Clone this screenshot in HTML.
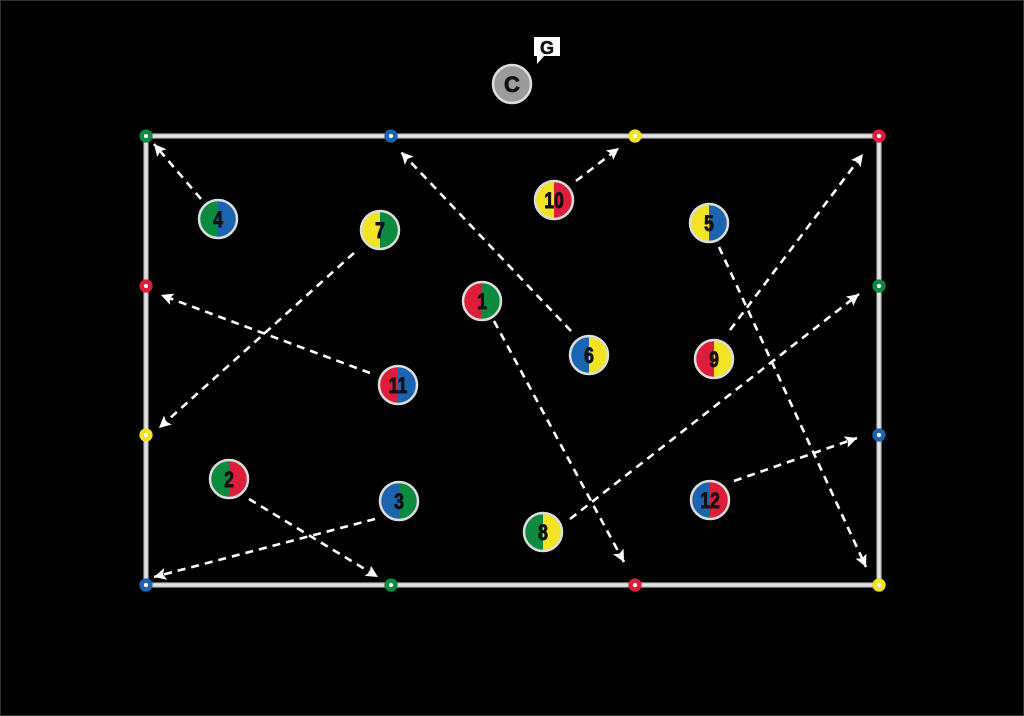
<!DOCTYPE html>
<html><head><meta charset="utf-8"><style>
html,body{margin:0;padding:0;background:#000;}
svg{display:block;}
text{font-family:"Liberation Sans",sans-serif;font-weight:bold;}
</style></head><body>
<svg width="1024" height="716" viewBox="0 0 1024 716" xmlns="http://www.w3.org/2000/svg">
<defs>
<marker id="ah" markerUnits="userSpaceOnUse" markerWidth="13" markerHeight="12" refX="12" refY="6" orient="auto">
<path d="M0,0 L12,6 L0,12 L2.5,6 z" fill="#fff"/>
</marker>
</defs>
<rect width="1024" height="716" fill="#000"/>
<rect x="0.5" y="0.5" width="1023" height="715" fill="none" stroke="#333" stroke-width="1"/>
<!-- field -->
<rect x="146" y="136" width="733" height="449" fill="none" stroke="#8a8a8a" stroke-width="5.5"/>
<rect x="146" y="136" width="733" height="449" fill="none" stroke="#e2e2e2" stroke-width="3.5"/>
<!-- arrows -->
<g stroke="#fff" stroke-width="2.6" stroke-dasharray="8 6" fill="none" marker-end="url(#ah)">
<line x1="201" y1="199" x2="154" y2="144"/>
<line x1="354" y1="253" x2="159" y2="428"/>
<line x1="370" y1="373" x2="161" y2="295"/>
<line x1="571" y1="331" x2="401" y2="152"/>
<line x1="576" y1="181" x2="619" y2="148"/>
<line x1="494" y1="321" x2="624" y2="562"/>
<line x1="719" y1="247" x2="866" y2="567"/>
<line x1="730" y1="330" x2="863" y2="154"/>
<line x1="570" y1="519" x2="859" y2="294"/>
<line x1="734" y1="481" x2="857" y2="438"/>
<line x1="249" y1="499" x2="378" y2="577"/>
<line x1="375" y1="519" x2="154" y2="577"/>
</g>
<!-- cones -->
<g fill="#fff" stroke-width="4.5">
<circle cx="146" cy="136" r="4.4" stroke="#0b8a40"/>
<circle cx="391" cy="136" r="4.4" stroke="#1c64b0"/>
<circle cx="635" cy="136" r="4.4" stroke="#f3e325"/>
<circle cx="879" cy="136" r="4.4" stroke="#dc1e3a"/>
<circle cx="146" cy="286" r="4.4" stroke="#dc1e3a"/>
<circle cx="146" cy="435" r="4.4" stroke="#f3e325"/>
<circle cx="146" cy="585" r="4.4" stroke="#1c64b0"/>
<circle cx="879" cy="286" r="4.4" stroke="#0b8a40"/>
<circle cx="879" cy="435" r="4.4" stroke="#1c64b0"/>
<circle cx="879" cy="585" r="4.4" stroke="#f3e325"/>
<circle cx="391" cy="585" r="4.4" stroke="#0b8a40"/>
<circle cx="635" cy="585" r="4.4" stroke="#dc1e3a"/>
</g>
<!-- coach -->
<circle cx="512" cy="84" r="19" fill="#9b9b9b" stroke="#dcdcdc" stroke-width="2.5"/>
<text x="512" y="92" font-size="22" text-anchor="middle" fill="#111" stroke="#111" stroke-width="0.8">C</text>
<rect x="534" y="37" width="26" height="19" fill="#fff"/>
<polygon points="537,55 545,55 537,64" fill="#fff"/>
<text x="547" y="54" font-size="18" text-anchor="middle" fill="#111" stroke="#111" stroke-width="0.6">G</text>
<!-- players -->
<g id="players" font-size="22">
<g transform="translate(482,301)"><path d="M0,-19 A19,19 0 0 0 0,19 z" fill="#dc1e3a"/><path d="M0,-19 A19,19 0 0 1 0,19 z" fill="#0b8a40"/><circle r="19" fill="none" stroke="#dcdcdc" stroke-width="2.5"/><text y="8" text-anchor="middle" fill="#111" stroke="#111" stroke-width="0.9" transform="scale(0.8,1)">1</text></g>
<g transform="translate(229,479)"><path d="M0,-19 A19,19 0 0 0 0,19 z" fill="#0b8a40"/><path d="M0,-19 A19,19 0 0 1 0,19 z" fill="#dc1e3a"/><circle r="19" fill="none" stroke="#dcdcdc" stroke-width="2.5"/><text y="8" text-anchor="middle" fill="#111" stroke="#111" stroke-width="0.9" transform="scale(0.8,1)">2</text></g>
<g transform="translate(399,501)"><path d="M0,-19 A19,19 0 0 0 0,19 z" fill="#1c64b0"/><path d="M0,-19 A19,19 0 0 1 0,19 z" fill="#0b8a40"/><circle r="19" fill="none" stroke="#dcdcdc" stroke-width="2.5"/><text y="8" text-anchor="middle" fill="#111" stroke="#111" stroke-width="0.9" transform="scale(0.8,1)">3</text></g>
<g transform="translate(218,219)"><path d="M0,-19 A19,19 0 0 0 0,19 z" fill="#0b8a40"/><path d="M0,-19 A19,19 0 0 1 0,19 z" fill="#1c64b0"/><circle r="19" fill="none" stroke="#dcdcdc" stroke-width="2.5"/><text y="8" text-anchor="middle" fill="#111" stroke="#111" stroke-width="0.9" transform="scale(0.8,1)">4</text></g>
<g transform="translate(709,223)"><path d="M0,-19 A19,19 0 0 0 0,19 z" fill="#f3e325"/><path d="M0,-19 A19,19 0 0 1 0,19 z" fill="#1c64b0"/><circle r="19" fill="none" stroke="#dcdcdc" stroke-width="2.5"/><text y="8" text-anchor="middle" fill="#111" stroke="#111" stroke-width="0.9" transform="scale(0.8,1)">5</text></g>
<g transform="translate(589,355)"><path d="M0,-19 A19,19 0 0 0 0,19 z" fill="#1c64b0"/><path d="M0,-19 A19,19 0 0 1 0,19 z" fill="#f3e325"/><circle r="19" fill="none" stroke="#dcdcdc" stroke-width="2.5"/><text y="8" text-anchor="middle" fill="#111" stroke="#111" stroke-width="0.9" transform="scale(0.8,1)">6</text></g>
<g transform="translate(380,230)"><path d="M0,-19 A19,19 0 0 0 0,19 z" fill="#f3e325"/><path d="M0,-19 A19,19 0 0 1 0,19 z" fill="#0b8a40"/><circle r="19" fill="none" stroke="#dcdcdc" stroke-width="2.5"/><text y="8" text-anchor="middle" fill="#111" stroke="#111" stroke-width="0.9" transform="scale(0.8,1)">7</text></g>
<g transform="translate(543,532)"><path d="M0,-19 A19,19 0 0 0 0,19 z" fill="#0b8a40"/><path d="M0,-19 A19,19 0 0 1 0,19 z" fill="#f3e325"/><circle r="19" fill="none" stroke="#dcdcdc" stroke-width="2.5"/><text y="8" text-anchor="middle" fill="#111" stroke="#111" stroke-width="0.9" transform="scale(0.8,1)">8</text></g>
<g transform="translate(714,359)"><path d="M0,-19 A19,19 0 0 0 0,19 z" fill="#dc1e3a"/><path d="M0,-19 A19,19 0 0 1 0,19 z" fill="#f3e325"/><circle r="19" fill="none" stroke="#dcdcdc" stroke-width="2.5"/><text y="8" text-anchor="middle" fill="#111" stroke="#111" stroke-width="0.9" transform="scale(0.8,1)">9</text></g>
<g transform="translate(554,200)"><path d="M0,-19 A19,19 0 0 0 0,19 z" fill="#f3e325"/><path d="M0,-19 A19,19 0 0 1 0,19 z" fill="#dc1e3a"/><circle r="19" fill="none" stroke="#dcdcdc" stroke-width="2.5"/><text y="8" text-anchor="middle" fill="#111" stroke="#111" stroke-width="0.9" transform="scale(0.8,1)">10</text></g>
<g transform="translate(398,385)"><path d="M0,-19 A19,19 0 0 0 0,19 z" fill="#dc1e3a"/><path d="M0,-19 A19,19 0 0 1 0,19 z" fill="#1c64b0"/><circle r="19" fill="none" stroke="#dcdcdc" stroke-width="2.5"/><text y="8" text-anchor="middle" fill="#111" stroke="#111" stroke-width="0.9" transform="scale(0.8,1)">11</text></g>
<g transform="translate(710,500)"><path d="M0,-19 A19,19 0 0 0 0,19 z" fill="#1c64b0"/><path d="M0,-19 A19,19 0 0 1 0,19 z" fill="#dc1e3a"/><circle r="19" fill="none" stroke="#dcdcdc" stroke-width="2.5"/><text y="8" text-anchor="middle" fill="#111" stroke="#111" stroke-width="0.9" transform="scale(0.8,1)">12</text></g>
</g>
</svg>
</body></html>
